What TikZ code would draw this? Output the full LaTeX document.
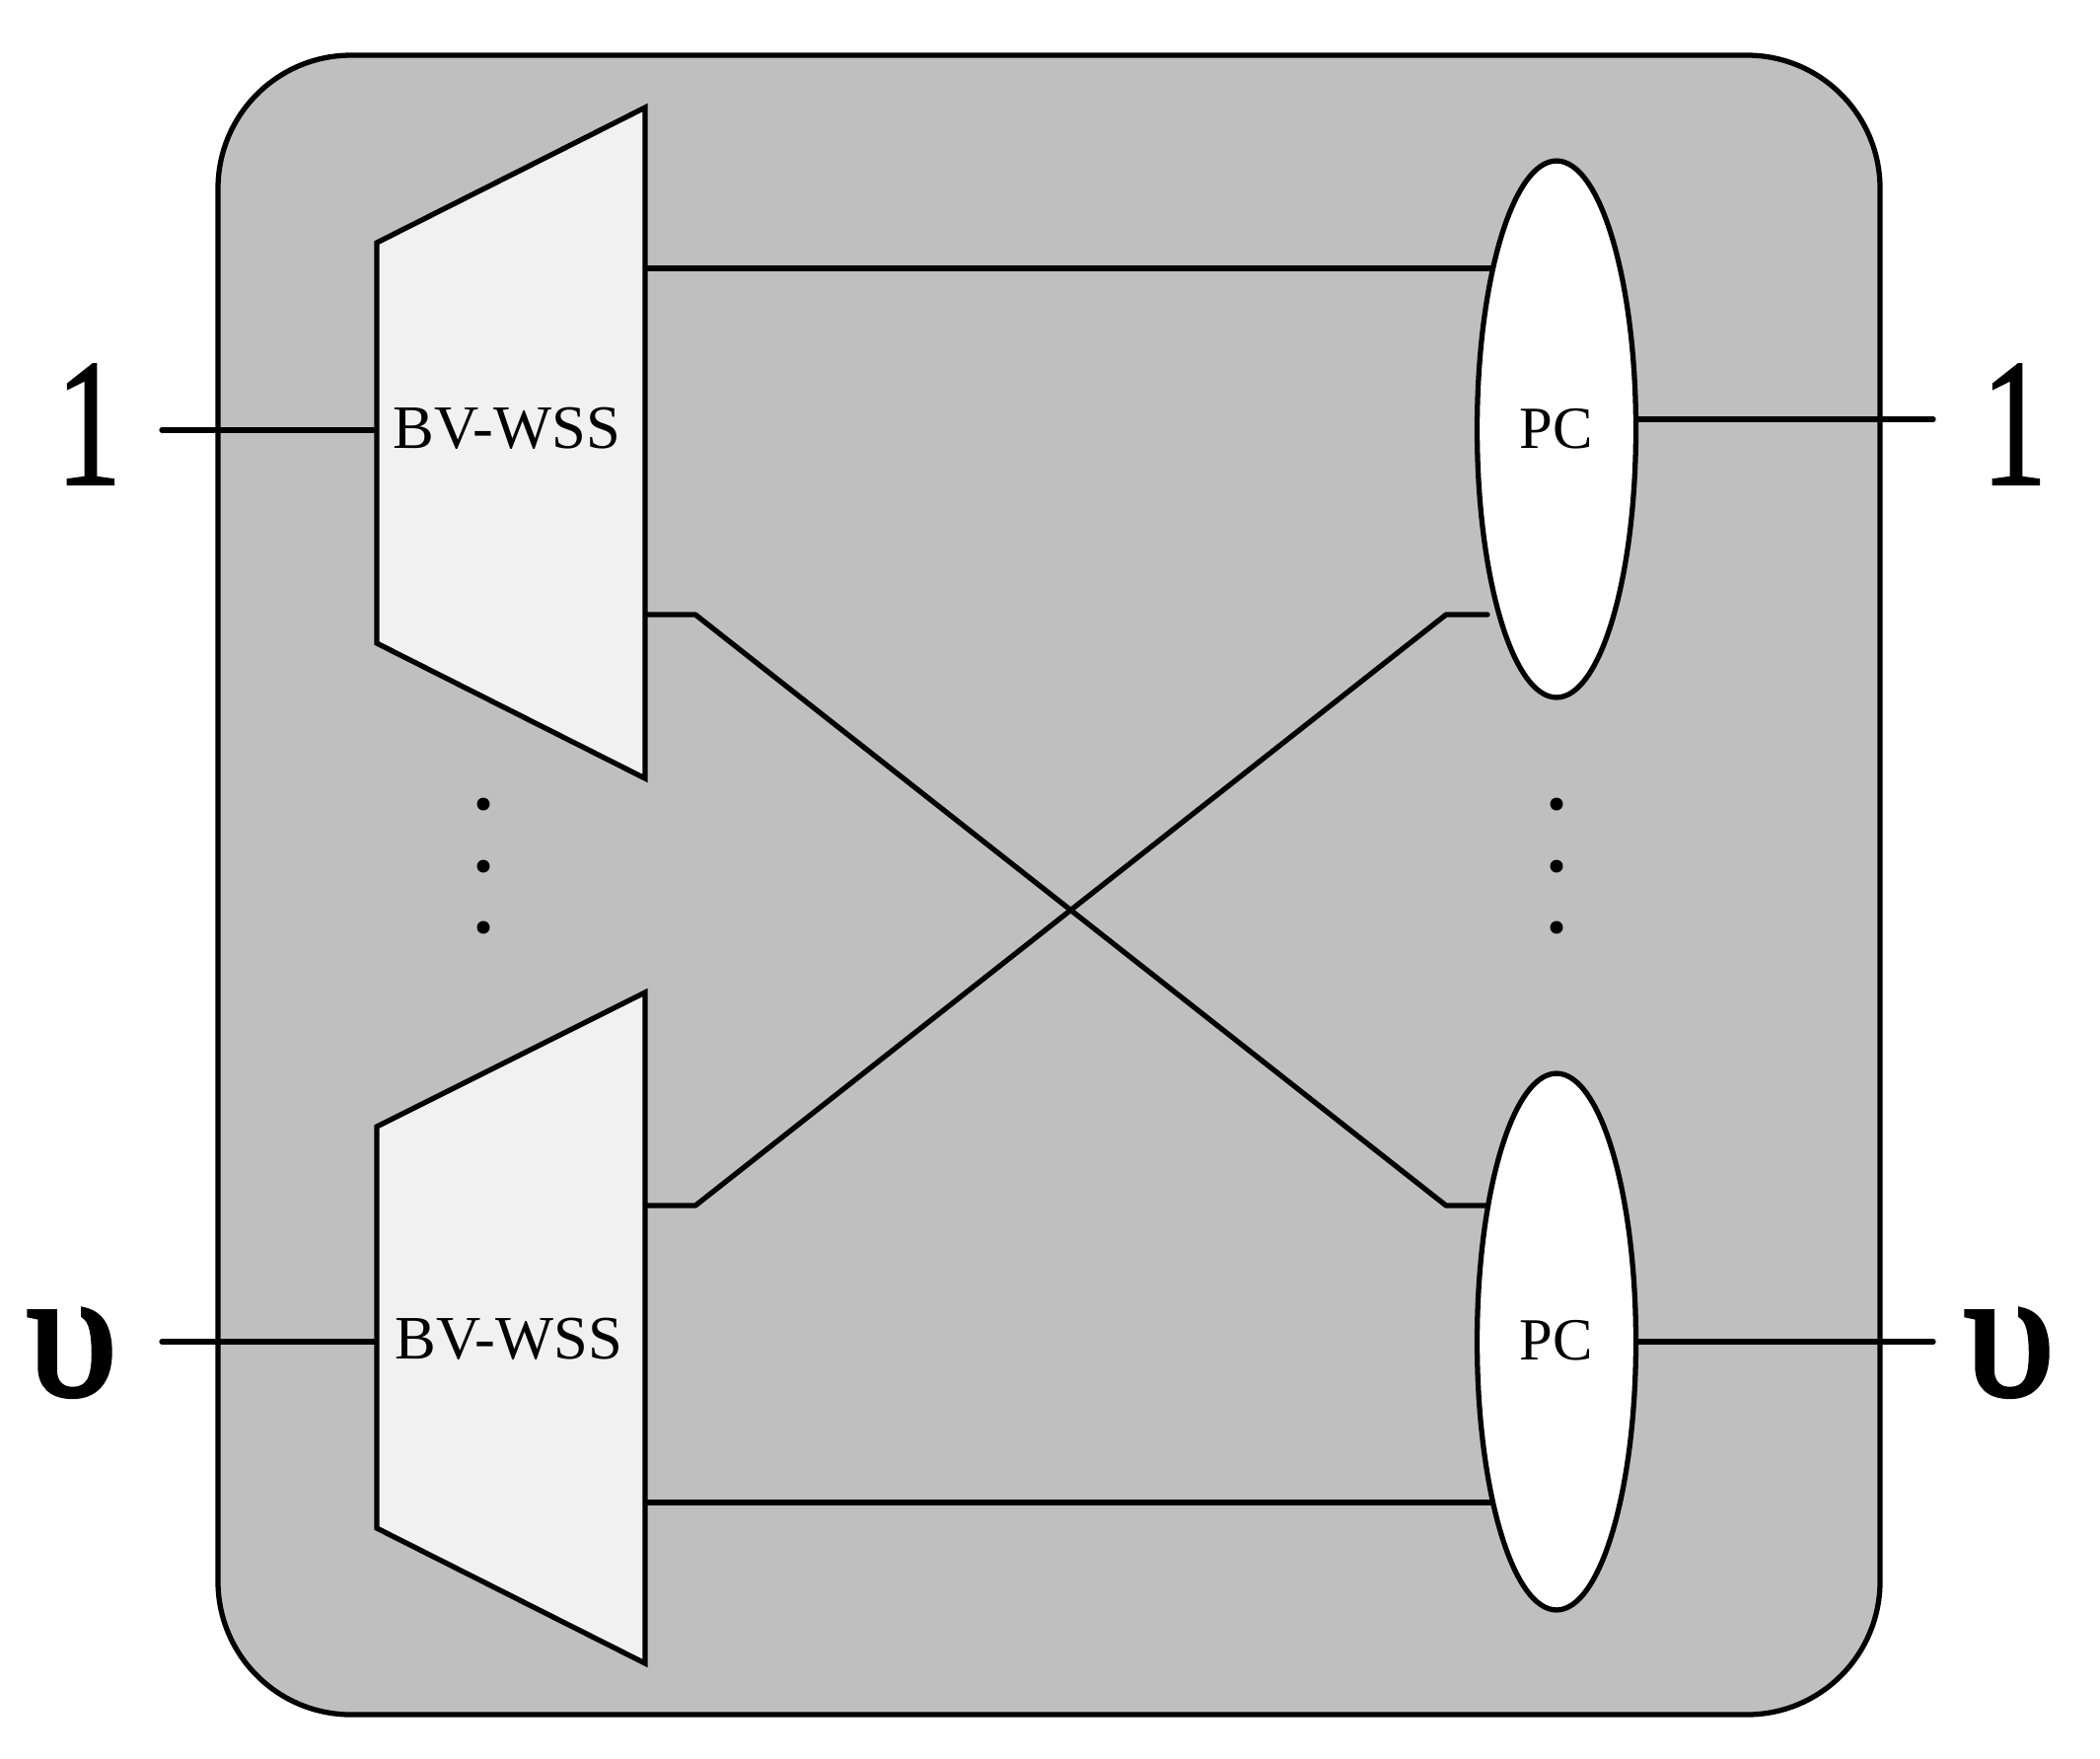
\documentclass[tikz,border=0pt]{standalone}
\usepackage{fontspec}
\setmainfont{Liberation Serif}
\newfontfamily\heavyport[RawFeature={embolden=2.5}]{Liberation Serif}
\newfontfamily\midport[RawFeature={embolden=1.2}]{Liberation Serif}
\usetikzlibrary{shapes.geometric}
\definecolor{panel}{HTML}{BFBFBF}
\definecolor{wss}{HTML}{F1F1F1}
\tikzset{
  wire/.style={line width=3pt,line cap=round,line join=round},
  wssbox/.style={draw,fill=wss,line width=3pt,line join=miter},
  pcnode/.style={draw,fill=white,ellipse,line width=3pt,minimum width=3.22cm,minimum height=10.88cm,inner sep=0pt,font=\fontsize{34.5}{34.5}\selectfont},
  lab/.style={inner sep=0pt,font=\fontsize{35.6}{35.6}\selectfont},
  port/.style={inner sep=0pt,anchor=base,font=\fontsize{105}{105}\selectfont},
  dotmark/.style={circle,fill=black,inner sep=0pt,minimum size=0.26cm}
}
\begin{document}
\begin{tikzpicture}[x=0.02cm,y=-0.02cm]
\useasboundingbox (0,0) rectangle (2129,1782);
\fill[white] (0,0) rectangle (2129,1782);
\draw[fill=panel,line width=3pt,rounded corners=2.7cm] (221,56) rectangle (1906,1738);
% port coordinates
\coordinate (inA) at (164,436);
\coordinate (inB) at (164,1360);
\coordinate (outA) at (1960,425);
\coordinate (outB) at (1960,1360);
\coordinate (wa) at (382,436);
\coordinate (wb) at (382,1360);
\coordinate (wa1) at (654,272);
\coordinate (wa2) at (654,623);
\coordinate (wb1) at (654,1222);
\coordinate (wb2) at (654,1523);
\coordinate (pa1) at (1515,272);
\coordinate (pa2) at (1508,623);
\coordinate (pb1) at (1515,1222);
\coordinate (pb2) at (1515,1523);
\coordinate (ka) at (705,623);
\coordinate (kb) at (1466,1222);
\coordinate (kc) at (705,1222);
\coordinate (kd) at (1466,623);
% connectors
\draw[wire] (wa1) -- (pa1);
\draw[wire] (wb2) -- (pb2);
\draw[wire] (wa2) -- (ka) -- (kb) -- (pb1);
\draw[wire] (wb1) -- (kc) -- (kd) -- (pa2);
\draw[wire] (inA) -- (wa);
\draw[wire] (inB) -- (wb);
% BV-WSS blocks
\draw[wssbox] (382,246) -- (654,109) -- (654,789) -- (382,652) -- cycle;
\draw[wssbox] (382,1142) -- (654,1006) -- (654,1686) -- (382,1549) -- cycle;
\node[lab] (wssA) at (514,434) {BV-WSS};
\node[lab] (wssB) at (516,1357) {BV-WSS};
% PC nodes
\node[pcnode] (pcA) at (1578,435) {PC};
\node[pcnode] (pcB) at (1578,1360) {\raisebox{1.5pt}{PC}};
\draw[wire] (pcA.east |- outA) -- (outA);
\draw[wire] (pcB.east) -- (outB);
% dots
\node[dotmark] (d1) at (490,815) {};
\node[dotmark] (d2) at (490,878) {};
\node[dotmark] (d3) at (490,940) {};
\node[dotmark] (d4) at (1578,815) {};
\node[dotmark] (d5) at (1578,878) {};
\node[dotmark] (d6) at (1578,940) {};
% port labels
\node[port] (lA) at (90,491) {\scalebox{0.72}[1]{\midport 1}};
\node[port] (rA) at (2042,491) {\scalebox{0.72}[1]{\midport 1}};
\node[port] (lB) at (73,1414) {\heavyport υ};
\node[port] (rB) at (2037,1414) {\heavyport υ};
\end{tikzpicture}
\end{document}
